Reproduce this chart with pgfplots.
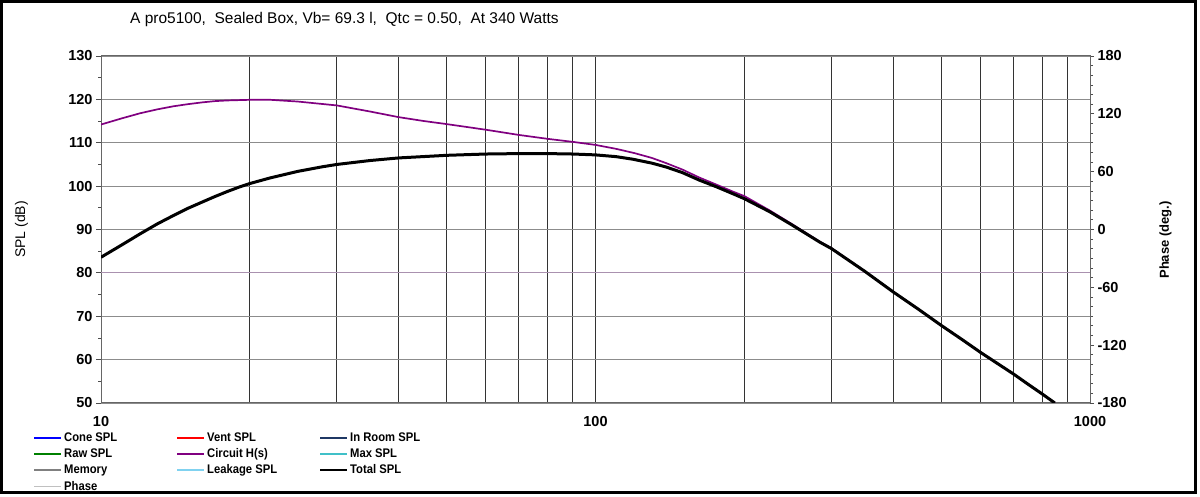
\documentclass[border=0pt]{standalone}
\usepackage{fontspec}
\setmainfont{Liberation Sans}
\usepackage{graphicx}
\usepackage{pgfplots}
\usepackage{pgfplotstable}
\pgfplotsset{compat=1.18}

\definecolor{coneblue}{RGB}{0,0,255}
\definecolor{ventred}{RGB}{255,0,0}
\definecolor{inroom}{RGB}{31,56,100}
\definecolor{rawgreen}{RGB}{0,128,0}
\definecolor{circuit}{RGB}{128,0,128}
\definecolor{maxspl}{RGB}{64,192,200}
\definecolor{memory}{RGB}{128,128,128}
\definecolor{leakage}{RGB}{128,210,240}
\definecolor{phase}{RGB}{192,192,192}
\definecolor{line80}{RGB}{170,145,175}

\newcommand{\legtxt}[1]{\makebox[110pt][l]{\strut\scalebox{0.9}[1]{#1}}}

\pgfplotstableread{
f     spl
10    114.2
11    115.6
12    116.8
13    117.7
14    118.4
15    118.9
16    119.3
17    119.6
18    119.75
20    119.9
22    119.9
25    119.5
30    118.6
35    117.2
40    115.9
45    115.0
50    114.3
60    113.0
64    112.5
70    111.8
80    110.9
90    110.2
100   109.5
110   108.6
120   107.6
130   106.5
139   105.3
150   103.8
162   102.0
176   100.3
190   98.7
200   97.7
225   94.4
250   91.2
284   87.2
300   85.7
350   80.4
400   75.6
450   71.6
500   67.9
550   64.7
600   61.7
650   59.1
700   56.7
750   54.3
800   52.1
849   50.0
}\circuit

\pgfplotstableread{
f     spl
10    83.6
11    86.4
12    89.0
13    91.3
14    93.2
15    94.9
16    96.3
17    97.6
18    98.75
19    99.75
20    100.6
22    101.9
25    103.4
28    104.45
30    105.0
35    105.9
40    106.5
50    107.1
60    107.4
70    107.5
80    107.5
90    107.4
100   107.2
110   106.8
119   106.2
130   105.3
139   104.4
150   103.1
162   101.4
176   99.8
190   98.2
200   97.1
225   94.1
250   91.0
284   87.1
300   85.6
350   80.4
400   75.6
450   71.6
500   67.9
550   64.7
600   61.7
650   59.1
700   56.7
750   54.3
800   52.1
849   50.0
}\total

\begin{document}
\begin{tikzpicture}
\path[use as bounding box] (0pt,0pt) rectangle (1200pt,497pt);
\fill[white] (0pt,0pt) rectangle (1200pt,497pt);
\draw[line width=2.6pt, black] (1.5pt,4.2pt) rectangle (1195.5pt,495.6pt);

\node[anchor=west, font=\fontsize{15.5}{15.5}\selectfont, inner sep=0pt] at (130pt,477pt) {A pro5100,\ \ Sealed Box, Vb= 69.3 l,\ \ Qtc = 0.50,\ \ At 340 Watts};
\node[rotate=90, font=\fontsize{14}{14}\selectfont] at (21.5pt,267.5pt) {SPL (dB)};
\node[rotate=90, font=\fontsize{13}{13}\selectfont\bfseries] at (1165.5pt,257pt) {Phase (deg.)};

\begin{axis}[
  at={(101pt,94pt)}, anchor=south west, scale only axis,
  width=989pt, height=347pt,
  xmode=log, xmin=10, xmax=1000, ymin=50, ymax=130,
  xtick={10,100,1000}, xticklabels={10,100,1000},
  minor xtick={20,30,40,50,60,70,80,90,200,300,400,500,600,700,800,900},
  ytick={50,60,...,130}, minor ytick={55,65,...,125},
  ytick pos=left, xtick pos=bottom,
  tick align=outside, major tick length=5pt, minor tick length=3pt,
  xtick style={draw=none},
  ytick style={draw=black!70, line width=0.8pt},
  xmajorgrids, xminorgrids, ymajorgrids,
  major x grid style={draw=black!80, line width=0.9pt},
  minor x grid style={draw=black!80, line width=0.9pt},
  major y grid style={draw=black!45, line width=0.9pt},
  axis line style={draw=black!60, line width=1pt},
  tick label style={font=\fontsize{14.5}{14.5}\selectfont\bfseries},
  xticklabel style={yshift=-5pt},
  /pgf/number format/assume math mode=true,
  legend columns=3,
  legend cell align=left,
  legend image code/.code={\draw[#1] (0pt,0pt) -- (27pt,0pt);},
  legend style={draw=none, fill=none, at={(axis description cs:0,0)}, anchor=north west,
    xshift=-68pt, yshift=-27.5pt, inner sep=0pt, row sep=1.7pt,
    font=\fontsize{12.5}{12.5}\selectfont\bfseries},
]
\addplot[forget plot, color=line80, line width=1pt] coordinates {(10,80) (1000,80)};
\addplot[forget plot, color=circuit, line width=1.7pt] table[x=f, y=spl] {\circuit};
\addplot[forget plot, color=black, line width=3pt] table[x=f, y=spl] {\total};

\addlegendimage{coneblue, line width=2pt}
\addlegendimage{ventred, line width=2pt}
\addlegendimage{inroom, line width=2pt}
\addlegendimage{rawgreen, line width=2pt}
\addlegendimage{circuit, line width=2pt}
\addlegendimage{maxspl, line width=2pt}
\addlegendimage{memory, line width=2pt}
\addlegendimage{leakage, line width=2pt}
\addlegendimage{black, line width=2pt}
\addlegendimage{phase, line width=1pt}
\legend{
  \legtxt{Cone SPL},
  \legtxt{Vent SPL},
  \legtxt{In Room SPL},
  \legtxt{Raw SPL},
  \legtxt{Circuit H(s)},
  \legtxt{Max SPL},
  \legtxt{Memory},
  \legtxt{Leakage SPL},
  \legtxt{Total SPL},
  \legtxt{Phase}}
\end{axis}

\begin{axis}[
  at={(101pt,94pt)}, anchor=south west, scale only axis,
  width=989pt, height=347pt,
  xmode=log, xmin=10, xmax=1000, ymin=-180, ymax=180,
  axis x line=none, axis y line*=right,
  ytick={-180,-120,...,180}, minor y tick num=5,
  tick align=outside, major tick length=4pt, minor tick length=3pt,
  ytick style={draw=black!70, line width=0.8pt},
  axis line style={draw=black!60, line width=1pt},
  tick label style={font=\fontsize{14.5}{14.5}\selectfont\bfseries},
  /pgf/number format/assume math mode=true,
]
\addplot[forget plot, draw=none] coordinates {(10,0) (1000,0)};
\end{axis}
\end{tikzpicture}
\end{document}
